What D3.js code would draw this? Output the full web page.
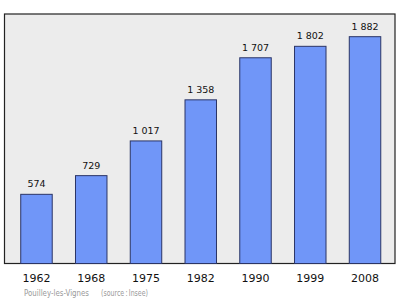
<!DOCTYPE html>
<html><head><meta charset="utf-8">
<script src="https://cdn.jsdelivr.net/npm/d3@7"></script>
<style>html,body{margin:0;padding:0;background:#fff;}svg{display:block;}</style>
</head><body>
<svg id="c" width="400" height="299"></svg>
<script>
const years = ["1962","1968","1975","1982","1990","1999","2008"];
const population = [574, 729, 1017, 1358, 1707, 1802, 1882];
const valueLabels = ["574","729","1 017","1 358","1 707","1 802","1 882"];
const footerCommune = "Pouilley-les-Vignes";
const footerSource = "(source\u202f:\u202fInsee)";

const svg = d3.select("#c");
const frame = {x0: 4.5, y0: 14, x1: 395, y1: 263.5};

svg.append("rect").attr("x", frame.x0).attr("y", frame.y0)
  .attr("width", frame.x1 - frame.x0).attr("height", frame.y1 - frame.y0)
  .attr("fill", "#ececec").attr("stroke", "#222").attr("stroke-width", 1.2);

const x = d3.scaleBand().domain(years).range([9.1, 392.4]).padding(0);
const y = d3.scaleLinear().domain([0, d3.max(population) * 1.1]).range([frame.y1, frame.y0]);
const bw = x.bandwidth() * 0.575;

const g = svg.append("g");
g.selectAll("rect.bar").data(years).join("rect").attr("class", "bar")
  .attr("x", d => x(d) + (x.bandwidth() - bw) / 2)
  .attr("y", (d, i) => y(population[i]))
  .attr("width", bw)
  .attr("height", (d, i) => frame.y1 - y(population[i]))
  .attr("fill", "#7096f8").attr("stroke", "#2b3566").attr("stroke-width", 1);

g.selectAll("text.val").data(years).join("text").attr("class", "val")
  .attr("x", d => x(d) + x.bandwidth() / 2)
  .attr("y", (d, i) => y(population[i]) - 7)
  .attr("text-anchor", "middle")
  .attr("font-family", "DejaVu Sans").attr("font-size", 9.5).attr("fill", "#111")
  .text((d, i) => valueLabels[i]);

const xAxis = d3.axisBottom(x).tickSize(0).tickPadding(0);
const ax = svg.append("g").attr("transform", `translate(0,${frame.y1})`).call(xAxis);
ax.select(".domain").remove();
ax.selectAll("text").attr("font-family", "DejaVu Sans").attr("font-size", 11)
  .attr("fill", "#111").attr("dy", null).attr("y", 18.2);

svg.append("text").attr("x", 24).attr("y", 295.5)
  .attr("font-family", "DejaVu Sans").attr("font-size", 8.2).attr("fill", "#999")
  .attr("textLength", 65).attr("lengthAdjust", "spacingAndGlyphs")
  .text(footerCommune);
svg.append("text").attr("x", 101).attr("y", 295.5)
  .attr("font-family", "DejaVu Sans").attr("font-size", 8.2).attr("fill", "#999")
  .attr("textLength", 47).attr("lengthAdjust", "spacingAndGlyphs")
  .text(footerSource);
</script>
</body></html>
